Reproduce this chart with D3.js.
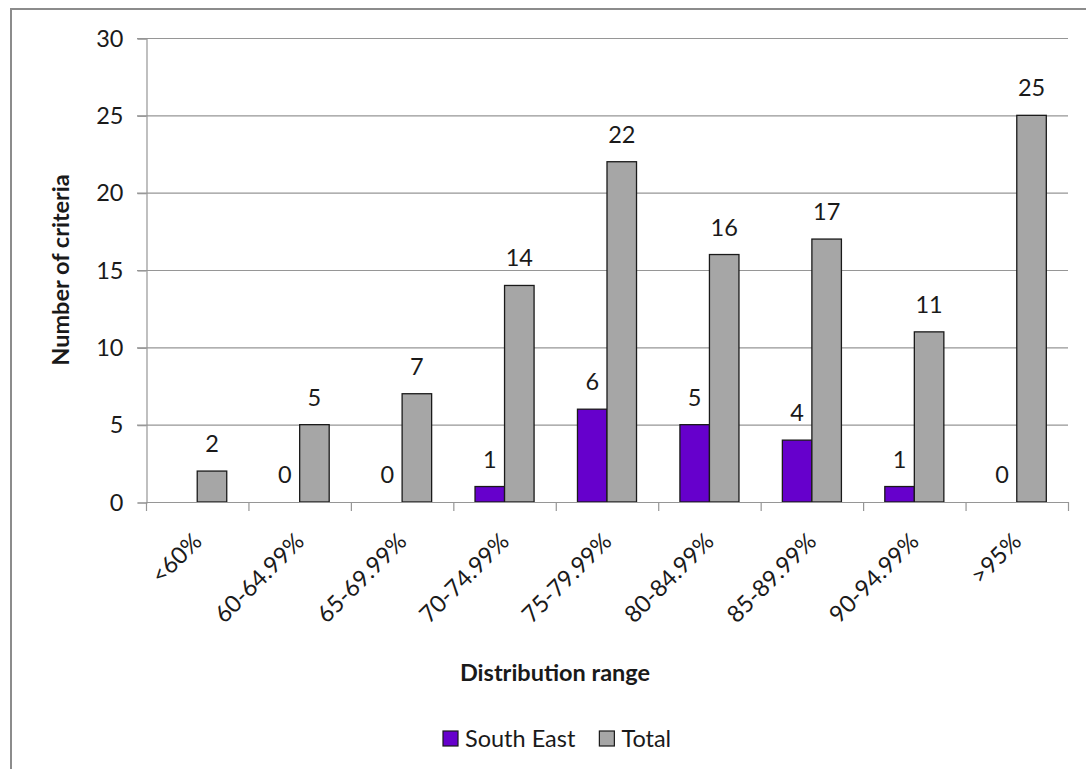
<!DOCTYPE html>
<html>
<head>
<meta charset="utf-8">
<script src="https://cdn.jsdelivr.net/npm/d3@7"></script>
<style>
  html, body { margin: 0; padding: 0; background: #fff; }
  svg { display: block; }
  text { font-family: Lato, "Open Sans", sans-serif; fill: #1a1a1a; }
</style>
</head>
<body>
<svg id="chart" width="1086" height="769"></svg>
<script>
const categories = ["<60%", "60-64.99%", "65-69.99%", "70-74.99%", "75-79.99%", "80-84.99%", "85-89.99%", "90-94.99%", ">95%"];
const southEast = [null, 0, 0, 1, 6, 5, 4, 1, 0];
const total = [2, 5, 7, 14, 22, 16, 17, 11, 25];
const seriesNames = ["South East", "Total"];
const yTicks = [0, 5, 10, 15, 20, 25, 30];
const xTitle = "Distribution range";
const yTitle = "Number of criteria";

const colors = { "South East": "#6600CC", "Total": "#A6A6A6" };
const FS = 23.5;

const svg = d3.select("#chart");
const W = 1086, H = 769;

// outer chart border (right & bottom edges lie outside the view)
svg.append("rect")
  .attr("x", 11).attr("y", 9)
  .attr("width", W + 20).attr("height", H + 20)
  .attr("fill", "none").attr("stroke", "#8c8c8c").attr("stroke-width", 2);

const plot = { left: 146, right: 1068, top: 38, bottom: 502 };

const x = d3.scaleBand().domain(categories).range([plot.left, plot.right]).paddingInner(0).paddingOuter(0);
const inner = d3.scaleBand().domain(seriesNames).range([0, x.bandwidth()]).paddingInner(0).paddingOuter(0.735);
const y = d3.scaleLinear().domain([0, 30]).range([plot.bottom, plot.top]);

// gridlines
svg.append("g").selectAll("line").data(yTicks.filter(d => d > 0)).join("line")
  .attr("x1", plot.left - 9).attr("x2", plot.right)
  .attr("y1", d => y(d) + 0.5).attr("y2", d => y(d) + 0.5)
  .attr("stroke", "#969696").attr("stroke-width", 1.2);

// y axis
const yAxis = d3.axisLeft(y).tickValues(yTicks).tickSize(9).tickPadding(14);
const gy = svg.append("g").attr("transform", `translate(${plot.left + 0.5},0.5)`).call(yAxis);
gy.select(".domain").attr("stroke", "#969696").attr("stroke-width", 1.2);
gy.selectAll(".tick line").attr("stroke", "#969696").attr("stroke-width", 1.2);
gy.selectAll(".tick text").attr("font-size", FS).attr("font-family", "Lato").attr("fill", "#1a1a1a");

// bars
const data = [];
categories.forEach((c, i) => {
  data.push({ cat: c, series: "South East", value: southEast[i] });
  data.push({ cat: c, series: "Total", value: total[i] });
});

const bars = svg.append("g");
bars.selectAll("rect").data(data.filter(d => d.value !== null && d.value > 0)).join("rect")
  .attr("x", d => x(d.cat) + inner(d.series))
  .attr("y", d => y(d.value))
  .attr("width", inner.bandwidth())
  .attr("height", d => y(0) - y(d.value))
  .attr("fill", d => colors[d.series])
  .attr("stroke", "#1a1a1a").attr("stroke-width", 1.3);

// x axis
const xAxisLine = svg.append("g");
xAxisLine.append("line")
  .attr("x1", plot.left).attr("x2", plot.right)
  .attr("y1", plot.bottom + 0.5).attr("y2", plot.bottom + 0.5)
  .attr("stroke", "#969696").attr("stroke-width", 1.2);
const boundaries = categories.map(c => x(c)).concat([plot.right]);
xAxisLine.selectAll("line.tk").data(boundaries).join("line").attr("class", "tk")
  .attr("x1", d => d + 0.5).attr("x2", d => d + 0.5)
  .attr("y1", plot.bottom).attr("y2", plot.bottom + 9)
  .attr("stroke", "#969696").attr("stroke-width", 1.2);

// category labels rotated
svg.append("g").selectAll("text").data(categories).join("text")
  .attr("transform", d => `translate(${x(d) + x.bandwidth() / 2 + 6},${plot.bottom + 41}) rotate(-45)`)
  .attr("text-anchor", "end")
  .attr("font-size", FS)
  .text(d => d);

// data labels
svg.append("g").selectAll("text").data(data.filter(d => d.value !== null)).join("text")
  .attr("x", d => x(d.cat) + inner(d.series) + inner.bandwidth() / 2)
  .attr("y", d => y(d.value) - 19)
  .attr("text-anchor", "middle")
  .attr("font-size", FS)
  .text(d => d.value);

// axis titles
svg.append("text")
  .attr("transform", `translate(69,270) rotate(-90)`)
  .attr("text-anchor", "middle")
  .attr("font-size", FS).attr("font-weight", "bold")
  .text(yTitle);

svg.append("text")
  .attr("x", 555).attr("y", 681)
  .attr("text-anchor", "middle")
  .attr("font-size", FS).attr("font-weight", "bold")
  .text(xTitle);

// legend
const legend = svg.append("g").attr("transform", "translate(443,731)");
let lx = 0;
seriesNames.forEach((s, i) => {
  const g = legend.append("g").attr("transform", `translate(${lx},0)`);
  g.append("rect").attr("width", 15).attr("height", 15)
    .attr("fill", colors[s]).attr("stroke", "#1a1a1a").attr("stroke-width", 1.2);
  const t = g.append("text").attr("x", 22).attr("y", 15.5).attr("font-size", FS).text(s);
  lx += 22 + t.node().getComputedTextLength() + 24;
});
</script>
</body>
</html>
